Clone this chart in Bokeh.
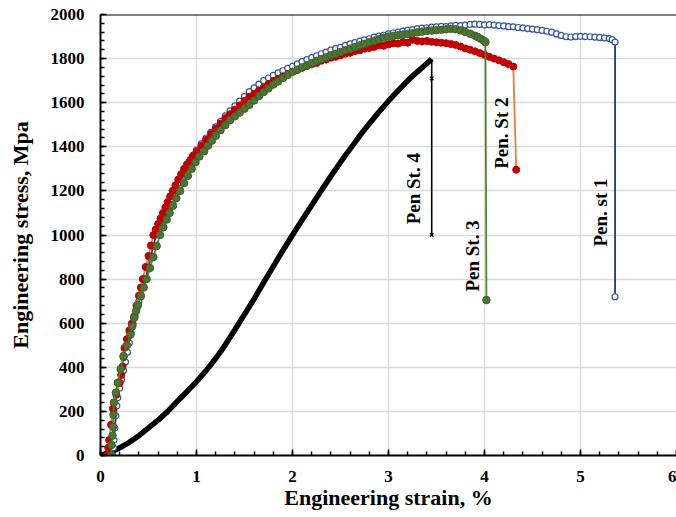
from math import pi
from bokeh.plotting import figure
from bokeh.models import Range1d, SingleIntervalTicker, Span
from bokeh.core.properties import value
from bokeh.embed import file_html
from bokeh.resources import INLINE

# ---------------- data ----------------
st1_x = [0.13, 0.135, 0.14, 0.15, 0.16, 0.17, 0.18, 0.20, 0.22, 0.24, 0.26, 0.28, 0.30, 0.32, 0.34,
         0.36, 0.38, 0.40, 0.42, 0.445, 0.47, 0.495, 0.52, 0.55, 0.58, 0.61, 0.64, 0.67, 0.70, 0.735,
         0.77, 0.81, 0.85, 0.885, 0.92, 0.96, 1.00, 1.05, 1.10, 1.15, 1.20, 1.25, 1.30, 1.35, 1.40,
         1.45, 1.50, 1.55, 1.60, 1.65, 1.70, 1.75, 1.80, 1.85, 1.90, 1.95, 2.00, 2.05, 2.10, 2.15,
         2.20, 2.25, 2.30, 2.35, 2.40, 2.45, 2.50, 2.55, 2.60, 2.65, 2.70, 2.75, 2.80, 2.85, 2.90,
         2.95, 3.00, 3.05, 3.10, 3.15, 3.20, 3.25, 3.30, 3.35, 3.40, 3.45, 3.50, 3.55, 3.60, 3.65,
         3.70, 3.75, 3.80, 3.85, 3.90, 3.95, 4.00, 4.05, 4.10, 4.15, 4.20, 4.25, 4.30, 4.35, 4.40,
         4.45, 4.50, 4.55, 4.60, 4.65, 4.70, 4.75, 4.80, 4.85, 4.90, 4.95, 5.00, 5.05, 5.10, 5.15,
         5.20, 5.25, 5.30, 5.33, 5.36, 5.36]
st1_y = [0, 35, 70, 125, 180, 225, 262, 305, 345, 385, 424, 468, 510, 553, 595,
         630, 665, 698, 730, 765, 800, 848, 895, 948, 1000, 1035, 1070, 1100, 1130, 1165,
         1200, 1235, 1270, 1300, 1330, 1358, 1385, 1413, 1440, 1465, 1490, 1515, 1540, 1563, 1586,
         1607, 1628, 1650, 1667, 1684, 1700, 1712, 1724, 1735, 1745, 1756, 1765, 1776, 1786, 1795,
         1804, 1813, 1822, 1829, 1838, 1845, 1851, 1860, 1867, 1872, 1879, 1885, 1890, 1897, 1902,
         1906, 1912, 1916, 1920, 1925, 1928, 1931, 1936, 1938, 1940, 1943, 1944, 1946, 1945, 1948,
         1951, 1950, 1952, 1955, 1956, 1955, 1953, 1954, 1952, 1950, 1948, 1945, 1944, 1941, 1939,
         1936, 1934, 1931, 1928, 1924, 1920, 1912, 1905, 1899, 1898, 1900, 1901, 1900, 1899, 1897,
         1896, 1894, 1891, 1886, 1875, 720]

st2_x = [0.07, 0.08, 0.09, 0.11, 0.13, 0.165, 0.20, 0.215, 0.23, 0.24, 0.25, 0.275, 0.30, 0.325, 0.35,
         0.375, 0.40, 0.42, 0.44, 0.47, 0.50, 0.525, 0.55, 0.575, 0.60, 0.625, 0.65, 0.675, 0.70, 0.725,
         0.75, 0.78, 0.81, 0.84, 0.87, 0.90, 0.935, 0.965, 1.00, 1.05, 1.10, 1.15, 1.20, 1.25, 1.30,
         1.35, 1.40, 1.45, 1.50, 1.55, 1.60, 1.65, 1.70, 1.75, 1.80, 1.85, 1.90, 1.95, 2.00, 2.05,
         2.10, 2.15, 2.20, 2.25, 2.30, 2.35, 2.40, 2.45, 2.50, 2.55, 2.60, 2.65, 2.70, 2.75, 2.80,
         2.85, 2.90, 2.95, 3.00, 3.05, 3.10, 3.15, 3.20, 3.25, 3.30, 3.35, 3.40, 3.45, 3.50, 3.55,
         3.60, 3.65, 3.70, 3.75, 3.80, 3.85, 3.90, 3.95, 4.00, 4.05, 4.10, 4.15, 4.20, 4.25, 4.30,
         4.33]
st2_y = [0, 35, 70, 140, 213, 275, 329, 365, 404, 446, 488, 528, 567, 598, 630,
         680, 725, 762, 800, 855, 905, 952, 1000, 1025, 1050, 1075, 1100, 1125, 1150, 1175,
         1200, 1226, 1252, 1276, 1300, 1320, 1340, 1360, 1378, 1405, 1432, 1458, 1482, 1506, 1530,
         1548, 1568, 1588, 1608, 1627, 1640, 1655, 1668, 1685, 1698, 1708, 1720, 1730, 1740, 1748,
         1758, 1766, 1774, 1780, 1790, 1796, 1804, 1808, 1815, 1822, 1826, 1834, 1838, 1845, 1848,
         1853, 1860, 1858, 1865, 1870, 1868, 1875, 1872, 1886, 1880, 1878, 1880, 1876, 1874, 1872,
         1870, 1866, 1862, 1855, 1846, 1840, 1833, 1825, 1817, 1808, 1800, 1792, 1784, 1775, 1764,
         1296]

st3_x = [0.11, 0.115, 0.125, 0.13, 0.135, 0.14, 0.16, 0.18, 0.21, 0.24, 0.275, 0.31, 0.33, 0.35, 0.37,
         0.39, 0.42, 0.45, 0.48, 0.515, 0.55, 0.585, 0.62, 0.655, 0.69, 0.72, 0.755, 0.79, 0.83, 0.87,
         0.91, 0.95, 0.99, 1.03, 1.08, 1.12, 1.16, 1.20, 1.25, 1.30, 1.35, 1.40, 1.45, 1.50, 1.55,
         1.60, 1.65, 1.70, 1.75, 1.80, 1.85, 1.90, 1.95, 2.00, 2.05, 2.10, 2.15, 2.20, 2.25, 2.30,
         2.35, 2.40, 2.45, 2.50, 2.55, 2.60, 2.65, 2.70, 2.75, 2.80, 2.85, 2.90, 2.95, 3.00, 3.05,
         3.10, 3.15, 3.20, 3.25, 3.30, 3.35, 3.40, 3.45, 3.50, 3.55, 3.60, 3.65, 3.70, 3.75, 3.80,
         3.85, 3.90, 3.93, 3.96, 3.99, 4.01, 4.02]
st3_y = [0, 48, 90, 130, 185, 240, 285, 330, 392, 451, 500, 547, 585, 624, 655,
         682, 722, 762, 800, 850, 900, 950, 1000, 1035, 1070, 1100, 1133, 1167, 1200, 1235,
         1268, 1300, 1330, 1356, 1380, 1405, 1428, 1450, 1475, 1498, 1520, 1538, 1555, 1573, 1590,
         1610, 1630, 1648, 1665, 1682, 1696, 1712, 1726, 1740, 1750, 1760, 1770, 1780, 1790, 1798,
         1806, 1815, 1822, 1830, 1838, 1845, 1852, 1860, 1867, 1875, 1881, 1888, 1894, 1900, 1903,
         1906, 1909, 1912, 1915, 1919, 1922, 1925, 1927, 1929, 1931, 1933, 1935, 1933, 1928, 1921,
         1913, 1904, 1898, 1890, 1882, 1875, 705]

st4_x = [0, 0.1, 0.2, 0.3, 0.4, 0.5, 0.6, 0.7, 0.8, 0.9, 1.0, 1.1, 1.2, 1.3, 1.4, 1.5, 1.6, 1.7,
         1.8, 1.9, 2.0, 2.1, 2.2, 2.3, 2.4, 2.5, 2.6, 2.7, 2.8, 2.9, 3.0, 3.1, 3.2, 3.3, 3.4, 3.45]
st4_y = [0, 14, 35, 60, 90, 125, 160, 200, 245, 290, 335, 385, 440, 502, 570, 640, 710, 785,
         858, 930, 1000, 1068, 1135, 1202, 1267, 1330, 1390, 1450, 1505, 1558, 1608, 1655, 1700,
         1740, 1778, 1798]
st4_drop_x = [3.45, 3.45, 3.45]
st4_drop_y = [1798, 1710, 1000]

labels = ["Pen. st 1", "Pen. St 2", "Pen St. 3", "Pen St. 4"]
label_x = [5.21, 4.18, 3.88, 3.26]
label_y = [1102, 1462, 905, 1210]

# ---------------- figure ----------------
FONT = "Liberation Serif"
p = figure(width=676, height=512, output_backend="svg", toolbar_location=None,
           x_range=Range1d(0, 6), y_range=Range1d(0, 2000),
           min_border_left=100, min_border_right=0, min_border_top=14, min_border_bottom=55)
p.outline_line_color = None
p.background_fill_color = "white"
p.border_fill_color = "white"

p.xaxis.ticker = SingleIntervalTicker(interval=1, num_minor_ticks=5)
p.yaxis.ticker = SingleIntervalTicker(interval=200, num_minor_ticks=5)
p.xgrid.grid_line_color = "#D9D9D9"
p.ygrid.grid_line_color = "#D9D9D9"
p.xgrid.grid_line_width = 1.3
p.ygrid.grid_line_width = 1.3

for ax in (p.xaxis, p.yaxis):
    ax.axis_line_color = "black"
    ax.axis_line_width = 2
    ax.major_tick_in = 6
    ax.major_tick_out = 0
    ax.minor_tick_in = 4
    ax.minor_tick_out = 0
    ax.major_tick_line_color = "black"
    ax.minor_tick_line_color = "black"
    ax.major_tick_line_width = 1.5
    ax.minor_tick_line_width = 1.5
    ax.major_label_text_font = FONT
    ax.major_label_text_font_style = "bold"
    ax.major_label_text_font_size = "17px"
    ax.major_label_text_color = "black"
    ax.axis_label_text_font = FONT
    ax.axis_label_text_font_style = "bold"
    ax.axis_label_text_font_size = "22px"
    ax.axis_label_text_color = "black"

p.xaxis.axis_label = "Engineering strain, %"
p.yaxis.axis_label = "Engineering stress, Mpa"
p.xaxis.major_label_standoff = 15
p.xaxis.axis_label_standoff = 0
p.yaxis.major_label_standoff = 16
p.yaxis.axis_label_standoff = 15

p.add_layout(Span(location=2000, dimension="width", line_color="black", line_width=2))

# Pen St. 4 (black)
p.line(st4_x, st4_y, line_color="black", line_width=5.5)
p.line(st4_drop_x, st4_drop_y, line_color="black", line_width=1.6)
p.scatter(st4_drop_x[1:], st4_drop_y[1:], marker="x", size=5, line_color="black", line_width=1.2)

# Pen. st 1 (blue, open circles)
p.line(st1_x, st1_y, line_color="#1F3A78", line_width=1.8)
p.scatter(st1_x, st1_y, marker="circle", size=6, line_color="#2F5597", fill_color="white", line_width=1.2)

# Pen. St 2 (orange line, red markers)
p.line(st2_x, st2_y, line_color="#ED7D31", line_width=1.8)
p.scatter(st2_x, st2_y, marker="circle", size=7, line_color="#C00000", fill_color="#C00000")

# Pen St. 3 (green)
p.line(st3_x, st3_y, line_color="#548235", line_width=1.8)
p.scatter(st3_x, st3_y, marker="circle", size=7.5, line_color="#3F6128", fill_color="#4E7433")

p.text(x=label_x, y=label_y, text=labels, angle=pi / 2,
       text_align="center", text_baseline="middle",
       text_font=value(FONT), text_font_style="bold", text_font_size="19px", text_color="black")

html = file_html(p, INLINE)
open("out.html", "w").write(html)
